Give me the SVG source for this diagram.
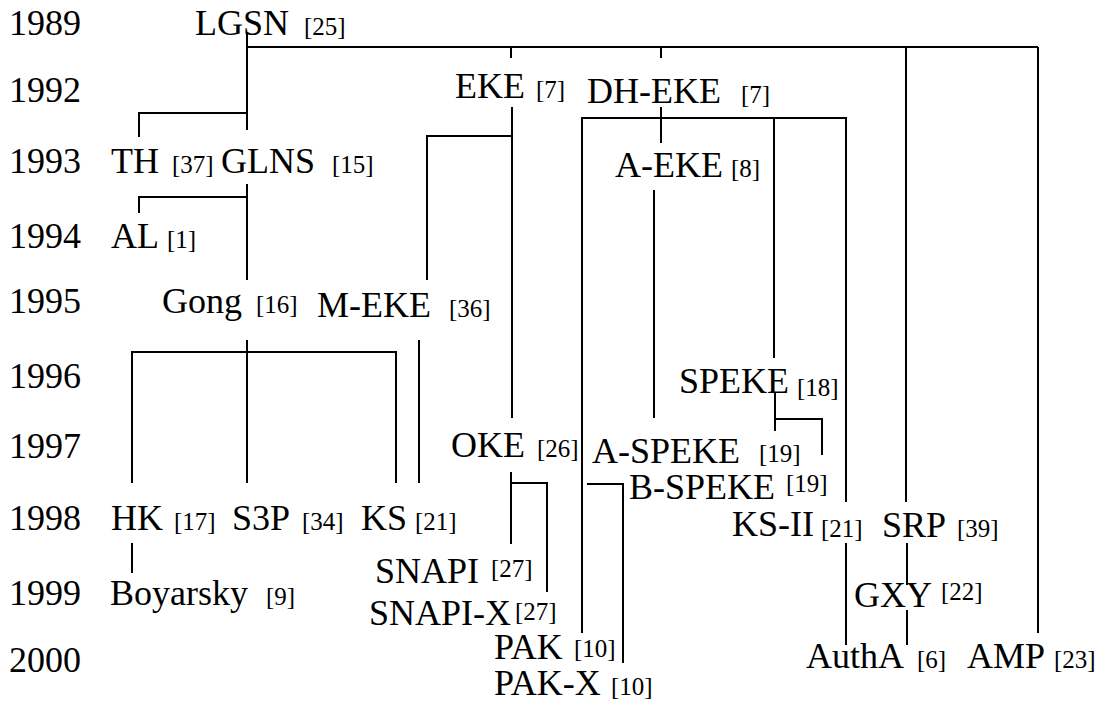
<svg xmlns="http://www.w3.org/2000/svg" width="1108" height="702" viewBox="0 0 1108 702">
<style>
text{fill:#000;font-family:'Liberation Serif','Times New Roman',serif}
.n{font-size:36px}
.r{font-size:25px}
.y{font-size:36px}
#connectors path{fill:none;stroke:#000;stroke-width:2}
</style>
<rect width="1108" height="702" fill="#fff"/>
<g id="years">
<text class="y" x="9" y="35">1989</text>
<text class="y" x="9" y="102">1992</text>
<text class="y" x="9" y="173">1993</text>
<text class="y" x="9" y="248">1994</text>
<text class="y" x="9" y="313">1995</text>
<text class="y" x="9" y="388">1996</text>
<text class="y" x="9" y="458">1997</text>
<text class="y" x="9" y="530">1998</text>
<text class="y" x="9" y="605">1999</text>
<text class="y" x="9" y="672">2000</text>
</g>
<g id="connectors">
<path d="M247,32 V130 M247,47 H1038"/>
<path d="M511,47 V58 M661,47 V58"/>
<path d="M906,47 V502 M1038,47 V633"/>
<path d="M247,113 H139 V137"/>
<path d="M247,184 V280 M247,197 H139 V213"/>
<path d="M247,340 V483 M132,483 V352 H396 V483"/>
<path d="M512,107 V418 M512,136 H427 V280"/>
<path d="M419,340 V483"/>
<path d="M661,107 V143 M582,633 V118 H846 V502 M774,118 V358"/>
<path d="M654,190 V418"/>
<path d="M775,392 V431 M775,419 H822 V455"/>
<path d="M511,472 V544 M511,483 H547 V592"/>
<path d="M587,484 H623 V663"/>
<path d="M132,543 V573"/>
<path d="M846,543 V645"/>
<path d="M907,543 V585 M907,610 V645"/>
</g>
<g id="LGSN"><text class="n" x="195" y="35">LGSN</text><text class="r" x="304" y="35">[25]</text></g>
<g id="EKE"><text class="n" x="455" y="98">EKE</text><text class="r" x="536" y="98">[7]</text></g>
<g id="DH-EKE"><text class="n" x="587" y="103">DH-EKE</text><text class="r" x="741" y="103">[7]</text></g>
<g id="TH"><text class="n" x="111" y="173">TH</text><text class="r" x="172" y="173">[37]</text></g>
<g id="GLNS"><text class="n" x="221" y="173">GLNS</text><text class="r" x="332" y="173">[15]</text></g>
<g id="A-EKE"><text class="n" x="615" y="177">A-EKE</text><text class="r" x="731" y="177">[8]</text></g>
<g id="AL"><text class="n" x="111" y="248">AL</text><text class="r" x="167" y="248">[1]</text></g>
<g id="Gong"><text class="n" x="162" y="313">Gong</text><text class="r" x="256" y="313">[16]</text></g>
<g id="M-EKE"><text class="n" x="317" y="317">M-EKE</text><text class="r" x="449" y="317">[36]</text></g>
<g id="SPEKE"><text class="n" x="679" y="393">SPEKE</text><text class="r" x="797" y="396">[18]</text></g>
<g id="OKE"><text class="n" x="451" y="457">OKE</text><text class="r" x="537" y="457">[26]</text></g>
<g id="A-SPEKE"><text class="n" x="592" y="463">A-SPEKE</text><text class="r" x="759" y="462">[19]</text></g>
<g id="B-SPEKE"><text class="n" x="629" y="499">B-SPEKE</text><text class="r" x="786" y="492">[19]</text></g>
<g id="HK"><text class="n" x="111" y="530">HK</text><text class="r" x="174" y="530">[17]</text></g>
<g id="S3P"><text class="n" x="232" y="530">S3P</text><text class="r" x="302" y="530">[34]</text></g>
<g id="KS"><text class="n" x="361" y="530">KS</text><text class="r" x="415" y="530">[21]</text></g>
<g id="KS-II"><text class="n" x="732" y="536">KS-II</text><text class="r" x="821" y="537">[21]</text></g>
<g id="SRP"><text class="n" x="882" y="537">SRP</text><text class="r" x="957" y="537">[39]</text></g>
<g id="SNAPI"><text class="n" x="375" y="583">SNAPI</text><text class="r" x="491" y="577">[27]</text></g>
<g id="Boyarsky"><text class="n" x="110" y="605">Boyarsky</text><text class="r" x="266" y="605">[9]</text></g>
<g id="SNAPI-X"><text class="n" x="369" y="625">SNAPI-X</text><text class="r" x="515" y="620">[27]</text></g>
<g id="GXY"><text class="n" x="854" y="607">GXY</text><text class="r" x="941" y="600">[22]</text></g>
<g id="PAK"><text class="n" x="494" y="659">PAK</text><text class="r" x="574" y="657">[10]</text></g>
<g id="AuthA"><text class="n" x="806" y="668">AuthA</text><text class="r" x="917" y="668">[6]</text></g>
<g id="AMP"><text class="n" x="967" y="668">AMP</text><text class="r" x="1054" y="668">[23]</text></g>
<g id="PAK-X"><text class="n" x="494" y="695">PAK-X</text><text class="r" x="611" y="695">[10]</text></g>
</svg>
